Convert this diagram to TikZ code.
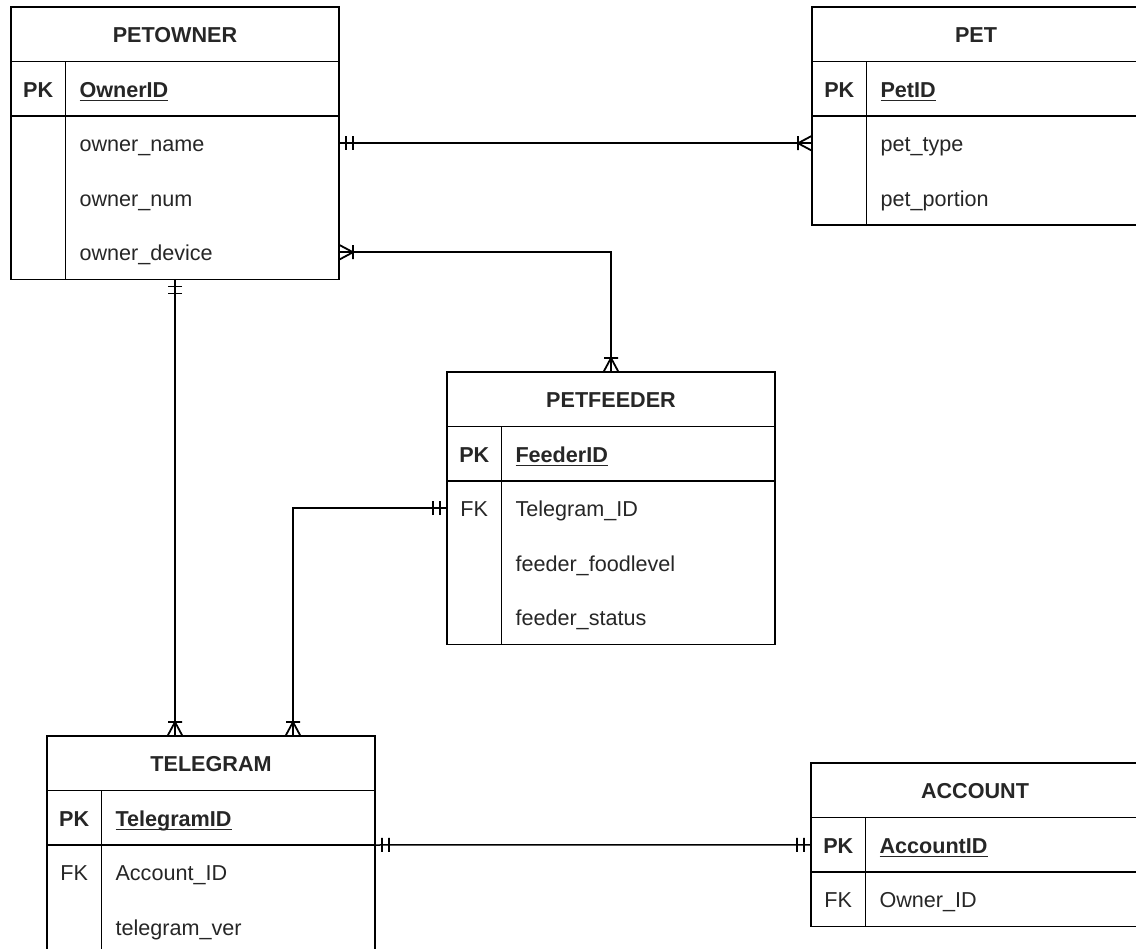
\documentclass[tikz,border=0pt]{standalone}
\usepackage{fontspec}
\setmainfont{Liberation Sans}
\usetikzlibrary{positioning,decorations.markings}

\newcommand{\pkname}[1]{\setbox0=\hbox{#1}\rlap{\rule[-4pt]{\wd0}{1.5pt}}\box0}

\begin{document}
\begin{tikzpicture}[x=1pt, y=-1pt, line width=1.5pt]
	\tikzstyle{every node}=[inner sep=0pt, outer sep=0pt, text height=19.5pt, text depth=2.5pt, text=black!85, font=\fontsize{21.6}{26}\selectfont]
	\tikzstyle{hdr}=[draw, minimum width=328pt, minimum height=54.5pt, font=\fontsize{21.6}{26}\selectfont\bfseries]
	\tikzstyle{keyc}=[minimum width=54.5pt, minimum height=54.5pt]
	\tikzstyle{fldc}=[minimum height=54.5pt, text width=245.5pt, inner xsep=14pt, align=left]
	\tikzstyle{mandstart}=[postaction={decorate, decoration={markings, mark=at position 0 with {\draw[line width=1.8pt] (7,-7) -- (7,7) (14,-7) -- (14,7);}}}]
	\tikzstyle{mandend}=[postaction={decorate, decoration={markings, mark=at position 1 with {\draw[line width=1.8pt] (-7,-7) -- (-7,7) (-14,-7) -- (-14,7);}}}]
	\tikzstyle{manystart}=[postaction={decorate, decoration={markings, mark=at position 0 with {\draw[line width=1.8pt] (0,-7.5) -- (14,0) -- (0,7.5) (14,-7) -- (14,7);}}}]
	\tikzstyle{manyend}=[postaction={decorate, decoration={markings, mark=at position 1 with {\draw[line width=1.8pt] (0,-7.5) -- (-14,0) -- (0,7.5) (-14,-7) -- (-14,7);}}}]
	\useasboundingbox (0,0) rectangle (1136,949);
	\clip (0,0) rectangle (1136,949);

	% PETOWNER
	\node[hdr] (owner) at (175,34.25) {PETOWNER};
	\node[keyc, draw, anchor=north west] (ownerpk) at (owner.south west) {\bfseries PK};
	\node[fldc, draw, right=0pt of ownerpk] (ownerid) {\bfseries\pkname{OwnerID}};
	\node[keyc, below=0pt of ownerpk] (ownerk1) {};
	\node[keyc, below=0pt of ownerk1] (ownerk2) {};
	\node[keyc, below=0pt of ownerk2] (ownerk3) {};
	\node[fldc, right=0pt of ownerk1] (ownerf1) {owner\_name};
	\node[fldc, right=0pt of ownerk2] (ownerf2) {owner\_num};
	\node[fldc, right=0pt of ownerk3] (ownerf3) {owner\_device};
	\draw (ownerk1.north west) rectangle (ownerf3.south east);
	\draw (ownerk1.north east) -- (ownerk3.south east);

	% PET
	\node[hdr] (pet) at (976,34.25) {PET};
	\node[keyc, draw, anchor=north west] (petpk) at (pet.south west) {\bfseries PK};
	\node[fldc, draw, right=0pt of petpk] (petid) {\bfseries\pkname{PetID}};
	\node[keyc, below=0pt of petpk] (petk1) {};
	\node[keyc, below=0pt of petk1] (petk2) {};
	\node[fldc, right=0pt of petk1] (petf1) {pet\_type};
	\node[fldc, right=0pt of petk2] (petf2) {pet\_portion};
	\draw (petk1.north west) rectangle (petf2.south east);
	\draw (petk1.north east) -- (petk2.south east);

	% PETFEEDER
	\node[hdr] (feeder) at (611,399.25) {PETFEEDER};
	\node[keyc, draw, anchor=north west] (feedpk) at (feeder.south west) {\bfseries PK};
	\node[fldc, draw, right=0pt of feedpk] (feedid) {\bfseries\pkname{FeederID}};
	\node[keyc, below=0pt of feedpk] (feedk1) {FK};
	\node[keyc, below=0pt of feedk1] (feedk2) {};
	\node[keyc, below=0pt of feedk2] (feedk3) {};
	\node[fldc, right=0pt of feedk1] (feedf1) {Telegram\_ID};
	\node[fldc, right=0pt of feedk2] (feedf2) {feeder\_foodlevel};
	\node[fldc, right=0pt of feedk3] (feedf3) {feeder\_status};
	\draw (feedk1.north west) rectangle (feedf3.south east);
	\draw (feedk1.north east) -- (feedk3.south east);

	% TELEGRAM
	\node[hdr] (tele) at (211,763.25) {TELEGRAM};
	\node[keyc, draw, anchor=north west] (telepk) at (tele.south west) {\bfseries PK};
	\node[fldc, draw, right=0pt of telepk] (teleid) {\bfseries\pkname{TelegramID}};
	\node[keyc, below=0pt of telepk] (telek1) {FK};
	\node[keyc, below=0pt of telek1] (telek2) {};
	\node[fldc, right=0pt of telek1] (telef1) {Account\_ID};
	\node[fldc, right=0pt of telek2] (telef2) {telegram\_ver};
	\draw (telek1.north west) rectangle (telef2.south east);
	\draw (telek1.north east) -- (telek2.south east);
	\coordinate (teletop) at ([xshift=82pt]tele.north);

	% ACCOUNT
	\node[hdr] (acc) at (975,790.25) {ACCOUNT};
	\node[keyc, draw, anchor=north west] (accpk) at (acc.south west) {\bfseries PK};
	\node[fldc, draw, right=0pt of accpk] (accid) {\bfseries\pkname{AccountID}};
	\node[keyc, below=0pt of accpk] (acck1) {FK};
	\node[fldc, right=0pt of acck1] (accf1) {Owner\_ID};
	\draw (acck1.north west) rectangle (accf1.south east);
	\draw (acck1.north east) -- (acck1.south east);

	% relations
	\draw[mandstart, manyend] (ownerf1.east) -- (petk1.west);
	\draw[manystart, manyend] (ownerf3.east) -| (feeder.north);
	\draw[mandstart, manyend] (owner.south |- ownerk3.south) -- (owner.south |- tele.north);
	\draw[mandstart, manyend] (feedk1.west) -| (teletop);
	\draw[mandstart, mandend] (teleid.south east) -- (accpk.west);
\end{tikzpicture}
\end{document}
